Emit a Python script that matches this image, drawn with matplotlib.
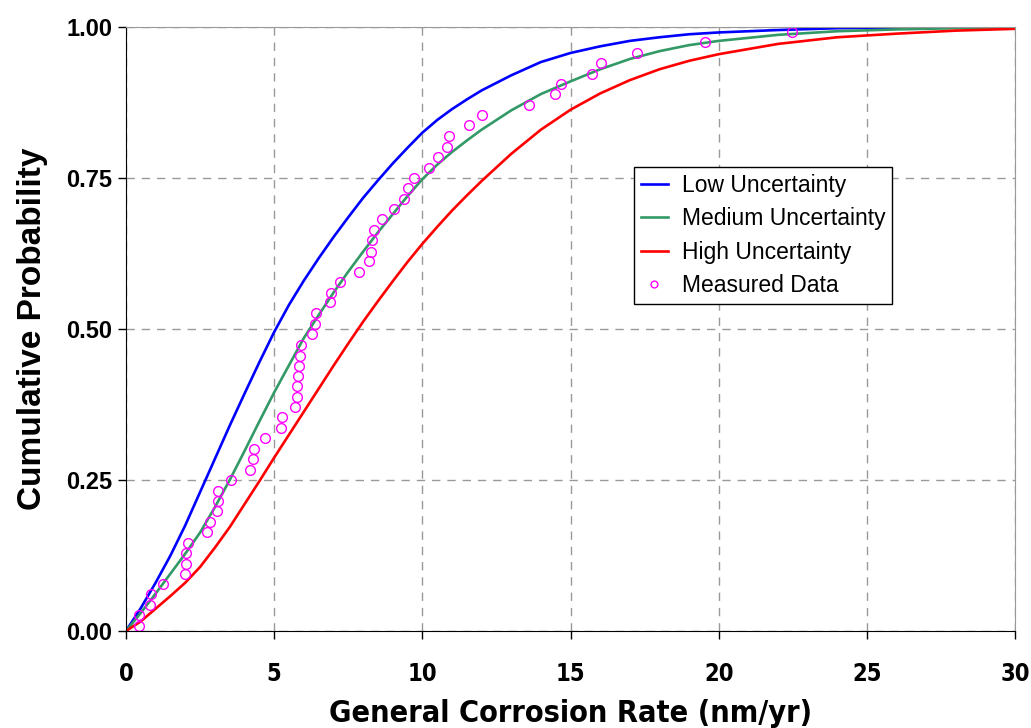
import matplotlib
matplotlib.use("Agg")
import matplotlib.pyplot as plt

# curve values (x in nm/yr, cumulative probability)
x_curve = [0, 0.5, 1, 1.5, 2, 2.5, 3, 3.5, 4, 4.5, 5, 5.5, 6, 6.5, 7, 7.5, 8,
           8.5, 9, 9.5, 10, 10.5, 11, 11.5, 12, 13, 14, 15, 16, 17, 18, 19, 20,
           22, 24, 26, 28, 30]
low_unc = [0, 0.038, 0.08, 0.125, 0.175, 0.23, 0.285, 0.34, 0.393, 0.445, 0.495,
           0.54, 0.58, 0.617, 0.652, 0.685, 0.717, 0.746, 0.774, 0.80, 0.825,
           0.846, 0.864, 0.88, 0.895, 0.92, 0.942, 0.957, 0.968, 0.977, 0.983,
           0.988, 0.991, 0.995, 0.998, 0.999, 1.0, 1.0]
med_unc = [0, 0.03, 0.062, 0.095, 0.128, 0.163, 0.205, 0.25, 0.298, 0.347, 0.395,
           0.44, 0.485, 0.523, 0.56, 0.595, 0.628, 0.66, 0.69, 0.72, 0.748,
           0.772, 0.793, 0.812, 0.83, 0.862, 0.889, 0.91, 0.93, 0.947, 0.96,
           0.97, 0.977, 0.987, 0.993, 0.996, 0.998, 0.999]
high_unc = [0, 0.016, 0.037, 0.058, 0.08, 0.106, 0.138, 0.172, 0.21, 0.248, 0.287,
            0.325, 0.363, 0.401, 0.439, 0.476, 0.512, 0.546, 0.579, 0.611, 0.641,
            0.669, 0.696, 0.721, 0.745, 0.79, 0.83, 0.863, 0.89, 0.912, 0.93,
            0.944, 0.955, 0.972, 0.983, 0.989, 0.994, 0.997]

# measured data points
meas_x = [0.44, 0.44, 0.81, 0.83, 1.25, 1.99, 2.02, 2.04, 2.09, 2.73, 2.83, 3.07,
          3.09, 3.10, 3.54, 4.20, 4.29, 4.32, 4.69, 5.24, 5.26, 5.69, 5.76, 5.78,
          5.80, 5.84, 5.88, 5.91, 6.27, 6.37, 6.40, 6.87, 6.92, 7.22, 7.86, 8.20,
          8.26, 8.29, 8.38, 8.63, 9.03, 9.38, 9.52, 9.73, 10.23, 10.54, 10.83,
          10.89, 11.58, 12.02, 13.59, 14.47, 14.68, 15.72, 16.04, 17.26, 19.54,
          22.48]
meas_y = [0.009, 0.026, 0.043, 0.061, 0.078, 0.095, 0.111, 0.129, 0.146, 0.164,
          0.181, 0.198, 0.215, 0.232, 0.250, 0.267, 0.284, 0.301, 0.319, 0.336,
          0.354, 0.371, 0.388, 0.405, 0.422, 0.439, 0.456, 0.474, 0.492, 0.509,
          0.526, 0.544, 0.560, 0.578, 0.595, 0.612, 0.628, 0.647, 0.664, 0.682,
          0.699, 0.716, 0.733, 0.750, 0.767, 0.785, 0.802, 0.820, 0.837, 0.854,
          0.871, 0.889, 0.906, 0.923, 0.940, 0.957, 0.975, 0.992]

x_ticks = [0, 5, 10, 15, 20, 25, 30]
y_ticks = [0.0, 0.25, 0.5, 0.75, 1.0]

plt.rcParams['font.family'] = ['Liberation Sans', 'DejaVu Sans']

fig = plt.figure(figsize=(10.31, 7.28), dpi=100)
ax = fig.add_axes([0.1222, 0.1332, 0.8623, 0.8297])

ax.plot(x_curve, low_unc, color='#0000FF', lw=1.9, label='Low Uncertainty')
ax.plot(x_curve, med_unc, color='#339966', lw=1.9, label='Medium Uncertainty')
ax.plot(x_curve, high_unc, color='#FF0000', lw=1.9, label='High Uncertainty')
ax.plot(meas_x, meas_y, 'o', ls='none', mfc='none', mec='#FF00FF', mew=1.0,
        ms=7, label='Measured Data')

ax.set_xlim(0, 30)
ax.set_ylim(0, 1)
ax.set_xticks(x_ticks)
ax.set_yticks(y_ticks)
ax.set_xticklabels([str(v) for v in x_ticks], fontsize=17, fontweight='bold',
                   family='DejaVu Sans', fontstretch='condensed')
ax.set_yticklabels(['%.2f' % v for v in y_ticks], fontsize=17, fontweight='bold')
ax.tick_params(direction='out', length=6, width=1)
ax.tick_params(axis='y', pad=4)
ax.tick_params(axis='x', pad=16)

ax.grid(True, ls=(0, (6, 5)), color='#999999', lw=1)
ax.set_axisbelow(True)
for s in ['top', 'right']:
    ax.spines[s].set_color('#999999')
for s in ['left', 'bottom']:
    ax.spines[s].set_color('black')

ax.set_xlabel('General Corrosion Rate (nm/yr)', fontsize=22, fontweight='bold',
              family='DejaVu Sans', fontstretch='condensed', labelpad=10)
ax.set_ylabel('Cumulative Probability', fontsize=24, fontweight='bold',
              labelpad=13)

leg = ax.legend(loc='upper left', bbox_to_anchor=(0.571, 0.768), fontsize=16.5,
                handlelength=1.2, handletextpad=0.6, borderpad=0.3,
                labelspacing=0.45, fancybox=False, framealpha=1,
                edgecolor='black', borderaxespad=0, markerscale=0.7)
leg.get_frame().set_linewidth(1)

fig.savefig('out.png', dpi=100)
